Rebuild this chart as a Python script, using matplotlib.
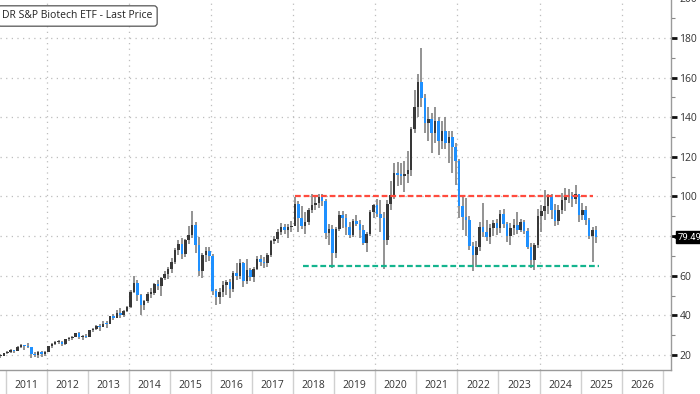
import matplotlib
matplotlib.use("Agg")
import matplotlib.pyplot as plt
from matplotlib.ticker import MultipleLocator, FixedLocator, NullFormatter, FuncFormatter

# monthly candles, Nov 2010 .. May 2025 (open = previous close)
start_year, start_month = 2010, 11
first_open = 19.3
closes = [
    19.6, 20.8,
    21.3, 22.3, 22.1, 24.2, 24.7, 24.5, 23.8, 20.4, 19.8, 21.3, 20.3, 21.6,
    24.3, 25.4, 26.5, 26.6, 25.7, 27.9, 28.4, 29.3, 31.0, 29.0, 29.6, 29.2,
    32.5, 32.9, 34.8, 34.2, 35.8, 35.5, 39.5, 38.6, 41.3, 40.0, 42.4, 44.2,
    52.0, 56.4, 50.5, 45.3, 47.0, 51.0, 51.4, 55.8, 54.8, 58.9, 60.7, 63.5,
    67.0, 73.0, 76.2, 71.0, 78.0, 80.5, 85.5, 75.5, 62.5, 70.5, 72.5, 70.2,
    52.3, 49.5, 51.8, 55.5, 56.8, 53.2, 61.5, 60.0, 66.5, 57.5, 62.8, 59.2,
    63.5, 68.5, 67.0, 66.5, 70.5, 77.5, 78.5, 82.0, 84.5, 83.0, 84.5, 84.9,
    96.0, 89.0, 85.0, 87.0, 93.0, 95.5, 96.5, 99.5, 97.5, 81.5, 83.5, 71.5,
    83.5, 90.5, 89.0, 84.5, 80.5, 87.5, 86.0, 83.0, 76.5, 81.0, 92.0, 95.5,
    91.0, 89.0, 78.0, 96.0, 100.5, 112.0, 111.0, 110.5, 111.5, 113.5, 134.0, 145.0,
    158.0, 149.5, 137.0, 139.0, 132.0, 138.0, 128.0, 133.0, 127.0, 130.0, 125.0, 118.0,
    95.0, 89.5, 88.0, 75.0, 70.5, 74.5, 84.5, 82.0, 79.5, 84.0, 86.5, 84.0,
    91.0, 86.0, 80.0, 84.0, 85.5, 83.0, 87.0, 82.5, 74.5, 68.0, 75.5, 90.0,
    92.5, 95.0, 99.5, 93.0, 87.5, 93.0, 98.0, 100.5, 100.0, 98.5, 101.5, 90.5,
    93.0, 88.0, 80.0, 83.0, 79.49,
]
highs = [
    20.3, 21.0,
    21.9, 22.8, 22.6, 24.6, 25.3, 25.1, 25.8, 24.0, 21.5, 22.0, 21.8, 21.9,
    24.6, 25.8, 26.9, 27.5, 27.1, 28.3, 29.0, 29.7, 31.3, 31.5, 30.1, 30.6,
    32.8, 33.8, 35.0, 35.5, 37.0, 37.2, 39.8, 40.5, 42.5, 43.8, 42.8, 44.8,
    53.0, 59.8, 58.0, 50.8, 47.8, 51.8, 53.8, 56.4, 58.0, 59.5, 62.5, 64.2,
    69.0, 73.8, 77.8, 79.0, 78.6, 85.0, 92.5, 87.0, 79.5, 71.5, 74.5, 74.5,
    71.0, 53.5, 54.0, 57.5, 58.0, 58.5, 62.5, 66.5, 68.5, 67.0, 68.5, 64.0,
    64.5, 70.0, 70.5, 69.5, 71.5, 78.0, 80.0, 83.5, 86.5, 86.0, 86.0, 87.5,
    99.5, 97.5, 95.0, 92.0, 94.0, 101.5, 100.5, 101.0, 101.5, 98.5, 86.0, 85.5,
    84.5, 92.5, 92.5, 91.0, 87.0, 88.5, 90.5, 88.0, 85.5, 82.0, 93.0, 96.0,
    98.5, 98.0, 92.0, 98.0, 108.0, 117.0, 117.5, 117.0, 118.0, 123.0, 135.0, 154.0,
    162.0, 175.0, 151.5, 145.0, 142.0, 145.0, 140.0, 138.0, 140.0, 133.0, 133.0, 127.0,
    119.0, 100.5, 99.0, 90.0, 77.0, 77.5, 87.0, 96.5, 88.0, 86.0, 88.0, 88.5,
    93.0, 93.5, 87.0, 86.5, 88.5, 92.0, 88.5, 88.0, 84.0, 76.5, 76.5, 93.5,
    95.5, 103.5, 101.0, 101.5, 96.0, 95.5, 102.0, 104.5, 104.0, 102.5, 106.0, 101.5,
    96.5, 95.0, 89.0, 84.5, 85.0,
]
lows = [
    18.7, 19.5,
    20.3, 20.9, 20.8, 21.9, 23.5, 22.6, 23.3, 18.4, 19.0, 18.5, 19.0, 19.6,
    21.6, 23.7, 24.8, 25.5, 24.5, 24.9, 26.8, 27.6, 28.9, 28.1, 27.6, 28.6,
    29.3, 31.6, 32.4, 32.3, 34.0, 33.6, 35.5, 37.8, 38.4, 38.8, 39.2, 41.8,
    43.8, 51.5, 47.0, 40.0, 42.5, 46.2, 48.5, 50.5, 53.0, 49.8, 57.8, 58.5,
    61.5, 66.0, 70.5, 68.5, 69.5, 76.0, 79.0, 71.5, 60.0, 59.0, 67.0, 67.5,
    50.5, 45.0, 45.5, 49.0, 50.5, 48.5, 52.0, 58.0, 58.5, 54.5, 56.0, 57.5,
    57.0, 63.0, 65.0, 64.0, 64.5, 69.5, 76.0, 76.5, 80.5, 81.0, 79.0, 82.0,
    85.5, 82.0, 83.5, 81.0, 85.5, 91.5, 93.0, 94.0, 95.0, 78.5, 75.5, 64.0,
    69.0, 82.5, 84.0, 80.5, 79.0, 79.5, 85.0, 79.0, 75.5, 72.0, 80.0, 89.0,
    89.5, 82.0, 63.5, 75.5, 93.0, 98.5, 105.5, 106.0, 102.5, 107.0, 110.5, 132.0,
    140.0, 145.0, 132.0, 128.0, 122.0, 127.0, 121.0, 124.0, 124.0, 117.0, 112.0, 106.0,
    89.0, 83.0, 80.0, 73.0, 62.5, 64.5, 72.5, 79.5, 77.5, 76.0, 80.0, 80.5,
    81.5, 84.0, 77.0, 75.5, 80.5, 81.0, 82.0, 81.0, 73.5, 64.0, 63.0, 74.0,
    82.0, 88.0, 91.0, 88.5, 85.0, 85.5, 91.0, 92.5, 96.5, 94.5, 96.0, 87.0,
    88.0, 85.5, 78.5, 67.0, 76.5,
]
opens = [first_open] + closes[:-1]

last_price = 79.49
year_labels = list(range(2011, 2027))
grid_years = [2012, 2014, 2016, 2018, 2020, 2022, 2024, 2026]

# horizontal levels drawn on the chart: value, start, end (years)
resist_level, resist_span = 100, (2018.05, 2025.30)
support_level, support_span = 65, (2018.24, 2025.45)

up_col = "#383838"
down_col = "#1e90ff"
wick_col = "#8a8a8a"

plt.rcParams["font.family"] = ["Open Sans", "DejaVu Sans"]

fig = plt.figure(figsize=(7, 3.94), dpi=100)
ax = fig.add_axes([0.0, 24 / 394, 671 / 700, 373.6 / 394])

# x position of each candle (middle of the month)
xs = []
for i in range(len(closes)):
    m = start_month - 1 + i
    xs.append(start_year + m // 12 + (m % 12 + 0.5) / 12)

ax.vlines(xs, lows, highs, color=wick_col, lw=1.3, zorder=3)
for x, o, c in zip(xs, opens, closes):
    col = up_col if c >= o else down_col
    bottom = min(o, c)
    h = max(abs(c - o), 0.6)
    ax.bar(x, h, bottom=bottom, width=0.062, color=col, lw=0, zorder=4)

# support / resistance
ax.plot(resist_span, [resist_level] * 2, color="#ff4b3e", lw=1.6,
        dashes=(2.6, 1.3), zorder=5)
ax.plot(support_span, [support_level] * 2, color="#14b48e", lw=1.6,
        dashes=(2.6, 1.3), zorder=5)

ax.set_xlim(2010.864, 2027.2)
ax.set_ylim(12.4, 201)

# grid
ax.yaxis.set_major_locator(MultipleLocator(20))
ax.yaxis.set_minor_locator(MultipleLocator(10))
ax.grid(axis="y", which="major", color="#bdbdbd", lw=0.9, ls=(0, (1, 3.5)))
for gy in grid_years:
    ax.axvline(gy, color="#bdbdbd", lw=0.9, ls=(0, (1, 3.5)), zorder=1)

# y axis on the right; the 80 label sits under the price tag
ax.yaxis.tick_right()
ax.yaxis.set_major_formatter(FuncFormatter(lambda v, _: "" if round(v) == 80 else f"{v:.0f}"))
ax.tick_params(axis="y", which="major", length=4, width=2, color="#111111",
               labelsize=7.5, labelcolor="#333333", pad=2)
ax.tick_params(axis="y", which="minor", length=3, width=0.8, color="#888888")

# x axis: separators at year boundaries, labels mid-year
ax.xaxis.set_major_locator(FixedLocator(list(range(2011, 2028))))
ax.xaxis.set_major_formatter(NullFormatter())
ax.xaxis.set_minor_locator(FixedLocator([y + 0.5 for y in year_labels]))
ax.set_xticklabels([str(y) for y in year_labels], minor=True)
ax.tick_params(axis="x", which="major", length=18, width=1, color="#d0d0d0")
ax.tick_params(axis="x", which="minor", length=0, labelsize=7.5,
               labelcolor="#333333", pad=7)

for s in ["top", "left"]:
    ax.spines[s].set_visible(False)
for s in ["right", "bottom"]:
    ax.spines[s].set_color("#9a9a9a")
    ax.spines[s].set_linewidth(1.0)

# last price tag: small pointer plus black box
ytr = ax.get_yaxis_transform()
ax.plot([1.006], [last_price], marker="<", ms=5, color="black", mew=0,
        transform=ytr, clip_on=False, zorder=10)
ax.text(1.010, last_price, f"{last_price:.2f}", transform=ytr,
        ha="left", va="center", fontsize=6.8, color="white",
        family=["Liberation Sans Narrow", "Roboto", "DejaVu Sans"],
        bbox=dict(boxstyle="square,pad=0.15", fc="black", ec="black"),
        clip_on=False, zorder=10)

# legend tag (cut at the left edge)
fig.text(0.003, 1 - 16 / 394, "DR S&P Biotech ETF - Last Price",
         ha="left", va="center", fontsize=7.5, color="#222222",
         bbox=dict(boxstyle="round,pad=0.45,rounding_size=0.3", fc="white",
                   ec="#555555", lw=0.9))

fig.savefig("out.png", dpi=100)
